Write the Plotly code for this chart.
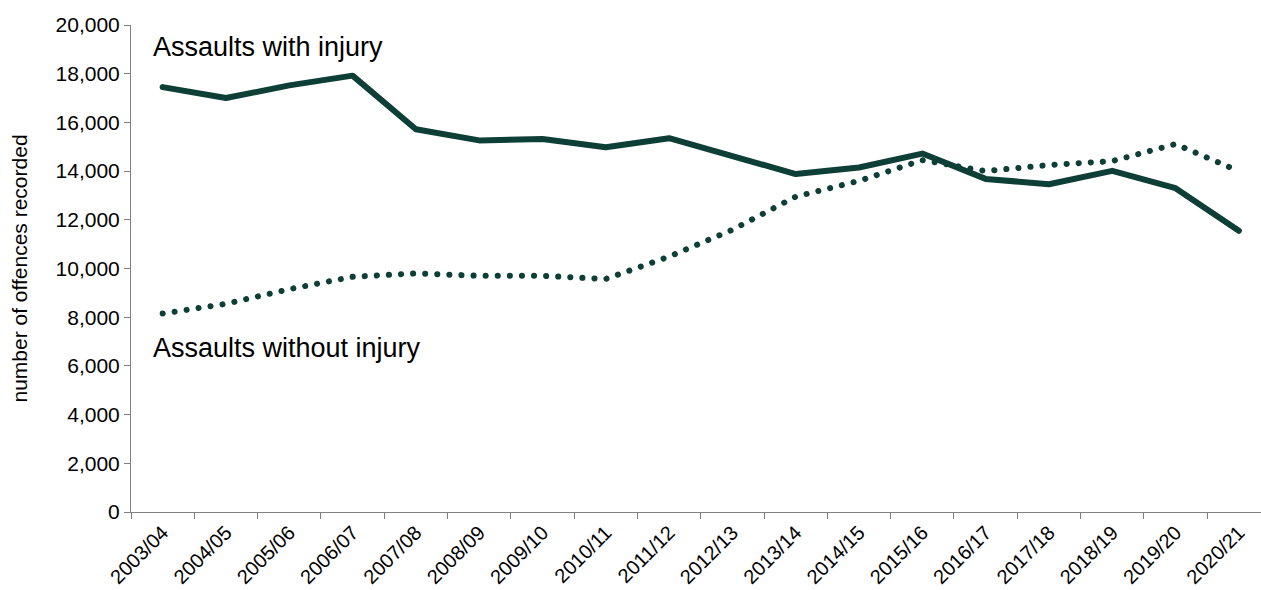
import plotly.graph_objects as go

years = ["2003/04", "2004/05", "2005/06", "2006/07", "2007/08", "2008/09",
         "2009/10", "2010/11", "2011/12", "2012/13", "2013/14", "2014/15",
         "2015/16", "2016/17", "2017/18", "2018/19", "2019/20", "2020/21"]

with_injury = [17450, 17000, 17520, 17920, 15720, 15260, 15320, 14980, 15350,
               14610, 13880, 14150, 14720, 13680, 13460, 14010, 13300, 11550]

without_injury = [8150, 8550, 9150, 9660, 9800, 9700, 9700, 9570, 10490,
                  11590, 12950, 13600, 14450, 14000, 14250, 14410, 15110, 14000]

y_ticks = list(range(0, 20001, 2000))

GREEN = "#0d3f36"
AXIS = "#808080"
FONT = "Arial, Liberation Sans, sans-serif"

fig = go.Figure()

fig.add_trace(go.Scatter(
    x=years, y=with_injury, mode="lines",
    line=dict(color=GREEN, width=6),
    name="Assaults with injury", hoverinfo="x+y",
))
fig.add_trace(go.Scatter(
    x=years, y=without_injury, mode="lines",
    line=dict(color=GREEN, width=6, dash="0.1px,12px"),
    name="Assaults without injury", hoverinfo="x+y",
))

# series labels written on the plot
fig.add_annotation(text="Assaults with injury", xref="paper", yref="paper",
                   x=0.018, y=0.955, xanchor="left", yanchor="middle",
                   showarrow=False, font=dict(size=27, color="#000000", family=FONT))
fig.add_annotation(text="Assaults without injury", xref="paper", yref="paper",
                   x=0.018, y=0.337, xanchor="left", yanchor="middle",
                   showarrow=False, font=dict(size=27, color="#000000", family=FONT))

fig.update_layout(
    width=1261, height=590,
    margin=dict(l=131, r=0, t=25, b=78),
    paper_bgcolor="white", plot_bgcolor="white",
    showlegend=False,
    font=dict(family=FONT, color="#000000"),
)

fig.update_xaxes(
    type="category", range=[-0.5, 17.35], automargin=False,
    tickson="boundaries", ticks="outside", ticklen=6, tickcolor=AXIS, tickwidth=1,
    showline=True, linecolor=AXIS, linewidth=1,
    showgrid=False, zeroline=False,
    tickangle=-45, tickfont=dict(size=20, family=FONT, color="#000000"),
)
fig.update_yaxes(
    range=[0, 20000], tickvals=y_ticks, tickformat=",", automargin=False,
    ticks="outside", ticklen=6, tickcolor=AXIS, tickwidth=1,
    showline=True, linecolor=AXIS, linewidth=1,
    showgrid=False, zeroline=False,
    tickfont=dict(size=21, family=FONT, color="#000000"),
    title=dict(text="number of offences recorded", standoff=22,
               font=dict(size=21, family=FONT, color="#000000")),
)

# no page margin, and round caps so the dotted series draws as round dots
page_fix = """
document.body.style.margin = '0';
var gd = document.getElementById('{plot_id}');
function roundCaps() {
  var paths = gd.querySelectorAll('.scatterlayer .trace path.js-line');
  paths.forEach(function (p) { p.style.strokeLinecap = 'round'; p.style.strokeLinejoin = 'round'; });
}
roundCaps();
gd.on('plotly_afterplot', roundCaps);
"""

fig.write_html("out.html", post_script=page_fix, config={"displayModeBar": False})
